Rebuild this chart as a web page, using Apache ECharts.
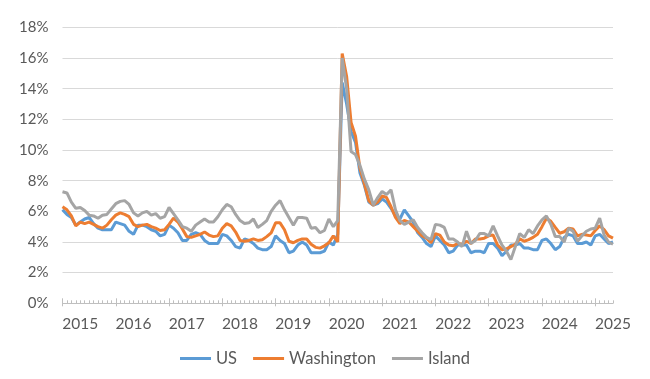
<!DOCTYPE html>
<html><head><meta charset="utf-8">
<script src="https://cdn.jsdelivr.net/npm/echarts@6/dist/echarts.min.js"></script>
<style>html,body{margin:0;padding:0;background:#fff}#c{width:650px;height:379px}</style>
</head><body><div id="c"></div>
<script>
// Monthly categories Jan 2015 .. May 2025
const months = [];
for (let y = 2015; y <= 2025; y++) {
  for (let m = 1; m <= 12; m++) {
    if (y === 2025 && m > 5) break;
    months.push(y + '-' + String(m).padStart(2, '0'));
  }
}
const yearLabels = ['2015','2016','2017','2018','2019','2020','2021','2022','2023','2024','2025'];

const us = [
  6.1, 5.8, 5.6, 5.1, 5.3, 5.5, 5.6, 5.2, 4.9, 4.8, 4.8, 4.8,
  5.3, 5.2, 5.1, 4.7, 4.5, 5.1, 5.1, 5.0, 4.8, 4.7, 4.4, 4.5,
  5.1, 4.9, 4.6, 4.1, 4.1, 4.5, 4.6, 4.5, 4.1, 3.9, 3.9, 3.9,
  4.5, 4.4, 4.1, 3.7, 3.6, 4.2, 4.1, 3.9, 3.6, 3.5, 3.5, 3.7,
  4.4, 4.1, 3.9, 3.3, 3.4, 3.8, 4.0, 3.8, 3.3, 3.3, 3.3, 3.4,
  4.0, 3.8, 4.5, 14.4, 13.0, 11.2, 10.5, 8.5, 7.7, 6.6, 6.4, 6.5,
  6.8, 6.6, 6.2, 5.7, 5.5, 6.1, 5.7, 5.3, 4.6, 4.3, 3.9, 3.7,
  4.4, 4.1, 3.8, 3.3, 3.4, 3.8, 3.8, 3.8, 3.3, 3.4, 3.4, 3.3,
  3.9, 3.9, 3.6, 3.1, 3.4, 3.8, 3.8, 3.9, 3.6, 3.6, 3.5, 3.5,
  4.1, 4.2, 3.9, 3.5, 3.7, 4.3, 4.5, 4.4, 3.9, 3.9, 4.0, 3.8,
  4.4, 4.5, 4.2, 3.9, 4.0
];
const washington = [
  6.3, 6.1, 5.7, 5.05, 5.3, 5.2, 5.3, 5.15, 5.0, 4.9, 5.1, 5.45,
  5.75, 5.9, 5.8, 5.65, 5.15, 5.0, 5.1, 5.15, 5.0, 4.9, 4.75, 4.8,
  5.15, 5.55, 5.3, 4.85, 4.35, 4.3, 4.4, 4.5, 4.65, 4.45, 4.35, 4.4,
  4.9, 5.2, 5.05, 4.65, 4.1, 4.05, 4.1, 4.2, 4.1, 4.15, 4.35, 4.6,
  5.25, 5.25, 4.8, 4.05, 3.95, 4.1, 4.2, 4.2, 3.85, 3.65, 3.6, 3.75,
  3.95, 4.4, 4.0, 16.3, 14.8, 11.8, 10.9, 8.8, 7.8, 6.7, 6.4, 6.6,
  7.0, 6.9, 6.3, 5.6, 5.2, 5.4, 5.3, 5.0, 4.7, 4.4, 4.25, 3.95,
  4.55, 4.45, 4.0, 3.8, 3.75, 3.9, 3.85, 4.05, 3.9, 4.2, 4.2, 4.25,
  4.4, 4.45, 3.8, 3.5, 3.55, 3.7, 3.85, 4.2, 4.05, 4.15, 4.3, 4.5,
  5.0, 5.55, 5.35, 4.95, 4.57, 4.67, 4.9, 4.85, 4.4, 4.5, 4.45, 4.4,
  4.75, 5.05, 4.8, 4.4, 4.25
];
const island = [
  7.28, 7.2, 6.6, 6.2, 6.25, 6.05, 5.75, 5.7, 5.55, 5.75, 5.8, 6.15,
  6.5, 6.65, 6.7, 6.45, 5.9, 5.7, 5.9, 6.0, 5.75, 5.85, 5.55, 5.65,
  6.25, 5.85, 5.45, 5.0, 4.9, 4.7, 5.1, 5.3, 5.5, 5.3, 5.3, 5.65,
  6.1, 6.45, 6.3, 5.8, 5.4, 5.2, 5.25, 5.5, 4.95, 5.15, 5.4, 6.0,
  6.4, 6.7, 6.1, 5.6, 5.1, 5.6, 5.6, 5.55, 4.9, 4.95, 4.6, 4.75,
  5.5, 5.0, 5.4, 16.0, 14.0, 9.9, 9.7, 9.0, 8.1, 7.4, 6.4, 6.9,
  7.3, 7.1, 7.4, 6.1, 5.4, 5.15, 5.3, 5.45, 4.95, 4.6, 4.3, 4.15,
  5.15, 5.1, 4.95, 4.2, 4.2, 4.0, 3.7, 4.7, 3.9, 4.1, 4.55, 4.55,
  4.4, 5.05, 4.4, 3.8, 3.4, 2.85, 3.7, 4.55, 4.3, 4.8, 4.55, 5.05,
  5.45, 5.7, 5.15, 4.35, 4.35, 4.0, 4.9, 4.7, 4.05, 4.4, 4.7, 4.85,
  4.9, 5.55, 4.45, 4.0, 3.85
];

const textColor = '#595959';
const axisColor = '#bfbfbf';
const font = 'Lato';

function tickAxis(show, interval, inside, length, labels, line) {
  return {
    type: 'category', data: months, boundaryGap: false, position: 'bottom',
    axisLine: { show: line, lineStyle: { color: axisColor, width: 1 } },
    axisTick: { show: show, interval: interval, inside: inside, length: length,
                lineStyle: { color: axisColor, width: 1 } },
    axisLabel: labels ? {
      show: true,
      interval: function (idx) { return idx % 12 === 4; },
      formatter: function (v, idx) { return yearLabels[(idx - 4) / 12]; },
      color: textColor, fontFamily: font, fontSize: 15.5, margin: 13
    } : { show: false },
    splitLine: { show: false }
  };
}

const chart = echarts.init(document.getElementById('c'), null, { renderer: 'canvas' });
chart.setOption({
  animation: false,
  backgroundColor: '#ffffff',
  color: ['#5B9BD5', '#ED7D31', '#A5A5A5'],
  grid: { left: 62.5, right: 37, top: 27.4, bottom: 75.7, containLabel: false },
  legend: {
    data: ['US', 'Washington', 'Island'],
    left: 'center', top: 345,
    icon: 'rect', itemWidth: 31, itemHeight: 3, itemGap: 16,
    textStyle: { color: textColor, fontFamily: font, fontSize: 16.5 }
  },
  xAxis: [
    tickAxis(true, 0, true, 3, true, true),
    tickAxis(true, function (idx) { return idx % 12 === 0; }, true, 5, false, false),
    tickAxis(true, function (idx) { return idx % 12 === 0; }, false, 3, false, false)
  ],
  yAxis: {
    type: 'value', min: 0, max: 18, interval: 2,
    axisLine: { show: false }, axisTick: { show: false },
    axisLabel: { formatter: '{value}%', color: textColor, fontFamily: font, fontSize: 15, margin: 14 },
    splitLine: { lineStyle: { color: '#d9d9d9', width: 1 } }
  },
  series: [
    { name: 'US', type: 'line', data: us, showSymbol: false, symbol: 'none', lineStyle: { width: 3 } },
    { name: 'Washington', type: 'line', data: washington, showSymbol: false, symbol: 'none', lineStyle: { width: 3 } },
    { name: 'Island', type: 'line', data: island, showSymbol: false, symbol: 'none', lineStyle: { width: 3 } }
  ]
});
</script></body></html>
